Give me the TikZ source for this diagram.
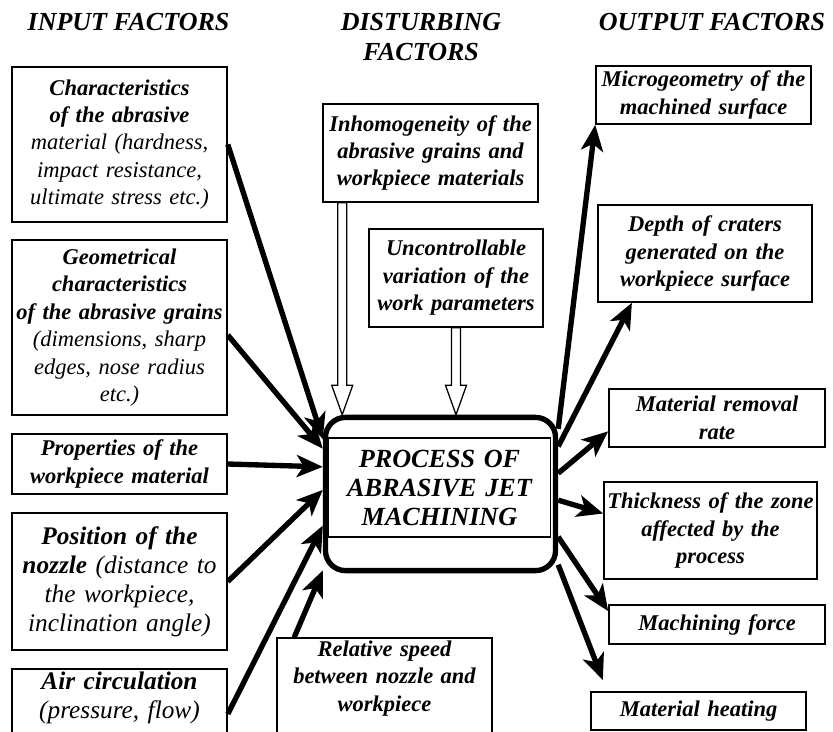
\documentclass[tikz,border=0pt]{standalone}
\usepackage{fontspec}
\setmainfont{Liberation Serif}
\usetikzlibrary{arrows.meta,calc}

\newcommand{\boxfont}{\fontsize{16}{19.5}\selectfont\itshape\hyphenpenalty=10000\exhyphenpenalty=10000}
\newcommand{\bigboxfont}{\fontsize{18}{20.6}\selectfont\itshape\hyphenpenalty=10000}
\newcommand{\headfont}{\fontsize{18.5}{21.3}\selectfont\bfseries\itshape}
\newcommand{\procfont}{\fontsize{18.6}{20.6}\selectfont\bfseries\itshape}

\tikzset{
  factor/.style={draw, line width=1.1pt, align=center, inner xsep=0pt, inner ysep=2pt, font=\boxfont},
  heading/.style={font=\headfont, align=center},
  flow/.style={line width=3.8pt, -{Stealth[length=0.65cm, width=0.55cm, inset=0.17cm]}},
  hollow/.style={line width=0.9pt, to path={let \p1=(\tikztostart), \p2=(\tikztotarget) in
    (\x1-3.2pt,\y1) -- (\x1-3.2pt,\y2+21pt) -- (\x1-7.5pt,\y2+21pt) -- (\x1,\y2)
    -- (\x1+7.5pt,\y2+21pt) -- (\x1+3.2pt,\y2+21pt) -- (\x1+3.2pt,\y1) -- cycle}}
}

\begin{document}
\begin{tikzpicture}[x=0.025cm, y=-0.025cm]

    \useasboundingbox (0,0) rectangle (833,731);
    \clip (0,0) rectangle (833,731);

    % headings
    \node[heading] (hin) at (128.5,22) {INPUT FACTORS};
    \node[heading] (hdist) at (421,37) {DISTURBING\\FACTORS};
    \node[heading] (hout) at (712,22) {OUTPUT FACTORS};

    % input factors
    \node[factor, text width=5.375cm, minimum height=3.875cm] (chars) at (119.5,144.5)
        {\bfseries Characteristics\\of the abrasive\\\mdseries material (hardness,\\impact resistance,\\ultimate stress etc.)};
    \node[factor, text width=5.375cm, minimum height=4.375cm] (geom) at (119.5,327.5)
        {\bfseries Geometrical\\characteristics\\of the abrasive grains\\\mdseries (dimensions, sharp\\edges, nose radius\\etc.)};
    \node[factor, text width=5.375cm, minimum height=1.5cm, font=\boxfont\bfseries] (props) at (119.5,464)
        {Properties of the\\workpiece material};
    \node[factor, text width=5.375cm, minimum height=3.425cm, font=\bigboxfont] (pos) at (119.5,581.5)
        {\bfseries Position of the\\nozzle \mdseries(distance to\\the workpiece,\\inclination angle)};
    \node[factor, text width=5.375cm, font=\bigboxfont] (air) at (119.5,714)
        {\bfseries Air circulation\\\mdseries (pressure, flow)\\\strut};

    % disturbing factors
    \node[factor, text width=5.375cm, minimum height=2.45cm, font=\boxfont\bfseries] (inhom) at (430.5,153)
        {Inhomogeneity of the\\abrasive grains and\\workpiece materials};
    \node[factor, text width=4.35cm, minimum height=2.45cm, font=\boxfont\bfseries] (uncon) at (456,278)
        {Uncontrollable\\variation of the\\work parameters};
    \node[factor, text width=5.375cm, font=\boxfont\bfseries] (speed) at (384.5,694)
        {Relative speed\\between nozzle and\\workpiece\\\strut};

    % process
    \node[draw, line width=3.8pt, rounded corners=0.5cm, minimum width=5.75cm, minimum height=3.83cm] (proc) at (440.5,494) {};
    \node[draw, line width=1pt, align=center, text width=5.3cm, minimum height=2.475cm, font=\procfont] (title) at (439.5,487.5)
        {PROCESS OF\\ABRASIVE JET\\MACHINING};

    % output factors
    \node[factor, text width=5.375cm, minimum height=1.45cm, font=\boxfont\bfseries] (micro) at (703.5,95)
        {Microgeometry of the\\machined surface};
    \node[factor, text width=5.35cm, minimum height=2.425cm, font=\boxfont\bfseries] (depth) at (705,253.5)
        {Depth of craters\\generated on the\\workpiece surface};
    \node[factor, text width=5.4cm, minimum height=1.45cm, font=\boxfont\bfseries] (rate) at (717,418)
        {Material removal\\rate};
    \node[factor, text width=5.325cm, minimum height=2.425cm, font=\boxfont\bfseries] (thick) at (710.5,530.5)
        {Thickness of the zone\\affected by the\\process};
    \node[factor, text width=5.4cm, minimum height=0.975cm, font=\boxfont\bfseries] (force) at (717,624.5)
        {Machining force};
    \node[factor, text width=5.375cm, minimum height=0.95cm, font=\boxfont\bfseries] (heat) at (698.5,711)
        {Material heating};

    \coordinate (hA) at ([xshift=0.5cm]inhom.south west);
    \coordinate (hB) at (uncon.south);
    \coordinate (spA) at ([xshift=0.45cm]speed.north west);
    \coordinate (heatin) at ([xshift=0.425cm]heat.north west);

    % disturbances
    \draw[hollow] (hA) to (hA |- proc.north);
    \draw[hollow] (hB) to (hB |- proc.north);

    % inputs
    \draw[flow] (chars.east) -- (proc.155);
    \draw[flow] (geom.-4) -- (proc.159);
    \draw[flow] (props.east) -- (proc.167);
    \draw[flow] (pos.east) -- (proc.178);
    \draw[flow] (air.east) -- (proc.195);
    \draw[flow] (spA) -- (proc.213);

    % outputs
    \draw[flow] (proc.29) -- (micro.south west);
    \draw[flow] (proc.22) -- (depth.214);
    \draw[flow] (proc.10) -- (rate.187);
    \draw[flow] (proc.-3) -- (thick.171);
    \draw[flow] (proc.-20) -- (force.173);
    \draw[flow, shorten >=0.3cm] (proc.-31) -- (heatin);
\end{tikzpicture}
\end{document}
